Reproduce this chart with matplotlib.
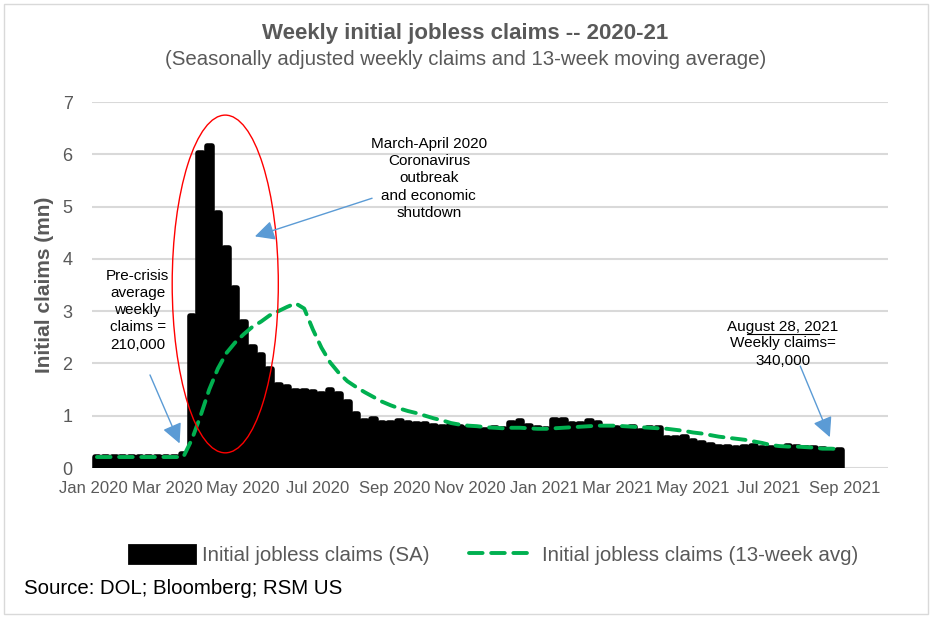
import matplotlib
matplotlib.use("Agg")
import matplotlib.pyplot as plt
import matplotlib.dates as mdates
from matplotlib.patches import Ellipse, Rectangle, Patch
from matplotlib.lines import Line2D
import pandas as pd

plt.rcParams['font.family'] = ['Liberation Sans', 'DejaVu Sans']

# weekly data, week ending Saturday: Jan 4 2020 .. Aug 28 2021
weeks = pd.date_range("2020-01-04", "2021-08-28", freq="7D")

# initial jobless claims, seasonally adjusted (millions)
claims_sa = [
    0.21, 0.22, 0.21, 0.22, 0.21, 0.21, 0.22, 0.22, 0.22, 0.21, 0.26,
    2.90, 6.02, 6.15, 4.87, 4.20, 3.44, 2.80, 2.32, 2.16, 1.90, 1.59,
    1.54, 1.47, 1.47, 1.45, 1.41, 1.49, 1.41, 1.26, 1.04, 0.89, 0.93,
    0.87, 0.87, 0.89, 0.86, 0.85, 0.84, 0.80, 0.79, 0.82, 0.78, 0.76,
    0.75, 0.73, 0.76, 0.74, 0.86, 0.89, 0.81, 0.76, 0.75, 0.92, 0.91,
    0.84, 0.84, 0.89, 0.86, 0.76, 0.77, 0.76, 0.78, 0.70, 0.76, 0.76,
    0.58, 0.58, 0.59, 0.52, 0.47, 0.44, 0.41, 0.40, 0.39, 0.41, 0.42,
    0.39, 0.38, 0.37, 0.42, 0.40, 0.39, 0.38, 0.36, 0.35, 0.34,
]

# 13-week moving average (millions)
claims_avg = [
    0.21, 0.21, 0.21, 0.21, 0.21, 0.21, 0.21, 0.21, 0.21, 0.21, 0.21,
    0.55, 1.00, 1.50, 1.90, 2.20, 2.40, 2.56, 2.70, 2.80, 2.92, 3.00,
    3.08, 3.15, 3.05, 2.65, 2.30, 2.02, 1.82, 1.66, 1.55, 1.45, 1.36,
    1.27, 1.20, 1.14, 1.09, 1.05, 1.00, 0.95, 0.91, 0.86, 0.83, 0.81,
    0.80, 0.78, 0.77, 0.76, 0.77, 0.77, 0.76, 0.75, 0.75, 0.76, 0.77,
    0.78, 0.79, 0.80, 0.81, 0.81, 0.81, 0.80, 0.79, 0.78, 0.77, 0.76,
    0.75, 0.73, 0.71, 0.68, 0.66, 0.63, 0.60, 0.58, 0.56, 0.54, 0.51,
    0.48, 0.44, 0.42, 0.41, 0.41, 0.40, 0.39, 0.37, 0.37, 0.36,
]

gray = '#595959'
green = '#00b050'
blue = '#5b9bd5'

fig = plt.figure(figsize=(9.33, 6.31), dpi=100)
ax = fig.add_axes([0.0986, 0.2583, 0.853, 0.580])

# bars with a thick round-joined outline give the rounded tops
ax.bar(weeks, claims_sa, width=3.8, color='black', edgecolor='black',
       linewidth=4, joinstyle='round', zorder=2)
ax.plot(weeks, claims_avg, color=green, linewidth=2.8, linestyle=(0, (3.5, 2.2)),
        dash_capstyle='round', zorder=3)

ax.set_xlim(pd.Timestamp("2019-12-31"), pd.Timestamp("2021-10-06"))
ax.set_ylim(0, 7)
ax.set_yticks(range(0, 8))
ax.yaxis.grid(True, color='#d9d9d9', linewidth=1.5, zorder=0)
ax.set_axisbelow(True)
for s in ax.spines.values():
    s.set_visible(False)

ax.xaxis.set_major_locator(mdates.MonthLocator(bymonth=[1, 3, 5, 7, 9, 11]))
ax.xaxis.set_major_formatter(mdates.DateFormatter('%b %Y'))
ax.tick_params(axis='x', length=0, pad=9, labelsize=12, labelcolor=gray)
ax.tick_params(axis='y', length=0, pad=14, labelsize=13, labelcolor=gray)

ax.set_ylabel('Initial claims (mn)', fontsize=15, fontweight='bold', color=gray, labelpad=6)

fig.text(0.499, 0.947, 'Weekly initial jobless claims -- 2020-21', ha='center', va='center',
         fontsize=16, fontweight='bold', color=gray)
fig.text(0.499, 0.905, '(Seasonally adjusted weekly claims and 13-week moving average)',
         ha='center', va='center', fontsize=14.7, color=gray)

# red ellipse round the spike
ax.add_patch(Ellipse((mdates.date2num(pd.Timestamp("2020-04-17")), 3.52), 86, 6.46,
                     fill=False, edgecolor='red', linewidth=1, zorder=4))

arrow = dict(arrowstyle='-|>,head_length=1.2,head_width=0.6', color=blue, linewidth=1,
             shrinkA=0, shrinkB=0)

ax.text(pd.Timestamp("2020-02-06"), 3.02, 'Pre-crisis\naverage\nweekly\nclaims =\n210,000',
        ha='center', va='center', fontsize=11, linespacing=1.3)
ax.annotate('', xy=(pd.Timestamp("2020-03-11"), 0.47), xytext=(pd.Timestamp("2020-02-16"), 1.78),
            arrowprops=arrow, zorder=5)

ax.text(pd.Timestamp("2020-09-29"), 5.54,
        'March-April 2020\nCoronavirus\noutbreak\nand economic\nshutdown',
        ha='center', va='center', fontsize=11, linespacing=1.3)
ax.annotate('', xy=(pd.Timestamp("2020-05-11"), 4.43), xytext=(pd.Timestamp("2020-08-14"), 5.16),
            arrowprops=arrow, zorder=5)

ax.text(pd.Timestamp("2021-07-13"), 2.70, 'August 28, 2021', ha='center', va='center',
        fontsize=11)
ax.plot([pd.Timestamp("2021-06-14"), pd.Timestamp("2021-08-11")], [2.57, 2.57],
        color='black', linewidth=0.8)
ax.text(pd.Timestamp("2021-07-13"), 2.22, 'Weekly claims=\n340,000', ha='center', va='center',
        fontsize=11, linespacing=1.3)
ax.annotate('', xy=(pd.Timestamp("2021-08-20"), 0.59), xytext=(pd.Timestamp("2021-07-27"), 1.95),
            arrowprops=arrow, zorder=5)

handles = [Patch(facecolor='black', edgecolor='black', linewidth=2, joinstyle='round'),
           Line2D([], [], color=green, linewidth=2.8, linestyle=(0, (3.5, 2.2)),
                  dash_capstyle='round')]
fig.legend(handles, ['Initial jobless claims (SA)', 'Initial jobless claims (13-week avg)'],
           loc='center', bbox_to_anchor=(0.529, 0.12), ncol=2, frameon=False,
           fontsize=14.8, labelcolor=gray, handlelength=3.2, handleheight=0.95,
           handletextpad=0.35, columnspacing=1.9)

fig.text(0.026, 0.068, 'Source: DOL; Bloomberg; RSM US', ha='left', va='center', fontsize=14.7)

fig.add_artist(Rectangle((4 / 933, 1 - 614 / 631), 924 / 933, 610 / 631,
                         transform=fig.transFigure, fill=False, edgecolor='#d9d9d9', linewidth=1))

fig.savefig('out.png', dpi=100)
